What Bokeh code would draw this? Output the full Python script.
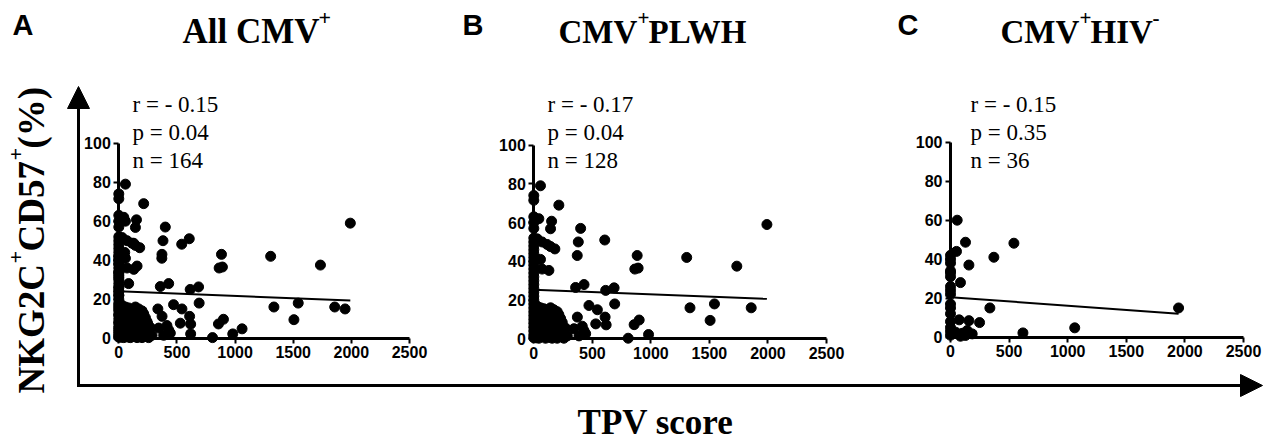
import math
from bokeh.plotting import figure
from bokeh.models import Range1d, LinearAxis, FixedTicker, Label, Arrow, NormalHead
from bokeh.embed import file_html
from bokeh.resources import INLINE

# ---------------- data ----------------
x_ticks = [0, 500, 1000, 1500, 2000, 2500]
y_ticks = [0, 20, 40, 60, 80, 100]

# CMV+ PLWH (panel B), TPV score vs NKG2C+CD57+ (%)
plwh_scatter = [
    (57, 79), (214, 69), (400, 57), (380, 50), (371, 43), (606, 51), (883, 43),
    (863, 36), (891, 36.5), (1306, 42), (1734, 37.5), (1991, 59), (1334, 16),
    (1543, 18), (1857, 16), (1506, 9.5), (980, 2.2), (806, 0.3), (857, 7.3),
    (900, 9.7), (691, 18), (686, 26.3), (614, 25), (429, 28), (357, 26.5),
    (471, 17.2), (543, 15), (372, 11.2), (609, 11.2), (618, 7.2), (529, 7.7),
    (343, 5.2), (414, 6.5), (429, 4.2), (443, 2.6), (386, 1.5),
    (152, 60.7), (143, 56.8), (43, 62), (29, 51.6), (71, 50), (114, 48.7),
    (143, 47.6), (180, 46.4), (57, 41), (129, 35.3), (71, 36),
]
plwh_axis_col = [
    (0, 74), (0, 71.5), (0, 63), (0, 60), (0, 57), (0, 52), (0, 50), (0, 48),
    (0, 46), (0, 44), (0, 42), (0, 40), (0, 38), (0, 36), (0, 34), (0, 32),
    (0, 30), (0, 28), (0, 26), (0, 24), (0, 22), (0, 20), (0, 18), (0, 16),
    (0, 14), (0, 12), (0, 10), (0, 8), (0, 6), (0, 4), (0, 2), (0, 0.5),
]
plwh_cluster = [
    (57, 16), (86, 15.5), (143, 16), (171, 15), (200, 14), (25, 17),
    (29, 13), (114, 13), (186, 13), (214, 12.5), (60, 12),
    (14, 11), (100, 11), (129, 11), (229, 10.5), (40, 10),
    (43, 9), (71, 9), (200, 9), (243, 8.5), (157, 8),
    (14, 6.5), (57, 6.5), (129, 6.5), (157, 6), (243, 6), (271, 5.5), (90, 7),
    (29, 4), (100, 4), (186, 4), (257, 3.5), (60, 3), (220, 5),
    (14, 2), (71, 2), (143, 2), (214, 2), (286, 1.5), (120, 2.5), (180, 1.5),
    (43, 0.3), (100, 0.3), (157, 0.3), (200, 0.3), (257, 0.3), (20, 0.5),
    (130, 0.8), (240, 1),
]
# CMV+ HIV- (panel C)
hivneg_points = [
    (57, 60), (128, 48.7), (541, 48.2), (51, 44), (370, 41), (157, 37), (85, 28),
    (336, 15), (1946, 15), (1060, 4.8), (618, 2.2), (248, 7.5), (74, 8.9),
    (157, 8.5), (142, 3.4), (185, 1.7), (100, 2), (43, 2.6), (85, 0.5), (128, 0.9),
    (0, 42), (0, 40), (0, 38), (0, 34), (0, 33), (0, 31), (0, 26), (0, 24),
    (0, 22), (0, 17), (0, 15), (0, 12), (0, 8), (0, 5), (0, 3), (0, 1),
]
plwh_points = plwh_scatter + plwh_axis_col + plwh_cluster
all_points = plwh_points + hivneg_points   # All CMV+ = PLWH + HIV-

stats_all = ["r = - 0.15", "p = 0.04", "n = 164"]
stats_plwh = ["r = - 0.17", "p = 0.04", "n = 128"]
stats_hivneg = ["r = - 0.15", "p = 0.35", "n = 36"]

# regression lines: (intercept, slope)
fit_all = (24.1, -0.00241)
fit_plwh = (25.3, -0.00235)
fit_hivneg = (20.5, -0.00436)

# ---------------- layout ----------------
W, H = 1271, 443
FX0, FX1 = 0, W
FY_B, FY_T = H, 0

SERIF = "Liberation Serif"
SANS = "Liberation Sans"
TICKFONT = "Liberation Sans Narrow, Liberation Sans"

p = figure(width=W, height=H, x_range=Range1d(FX0, FX1), y_range=Range1d(FY_B, FY_T),
           output_backend="svg", toolbar_location=None, title=None,
           x_axis_type=None, y_axis_type=None, min_border=0)
p.outline_line_color = None
p.background_fill_color = "white"
p.border_fill_color = "white"


def lin_range(v0, px0, v1, px1, lo, hi):
    s = (px1 - px0) / (v1 - v0)
    return Range1d(v0 + (lo - px0) / s, v0 + (hi - px0) / s)


panels = [
    dict(name="a", pts=all_points, stats=stats_all, fit=fit_all,
         x0=118.3, x2500=409.0, y0=337.7, y100=142.7, tx=132),
    dict(name="b", pts=plwh_points, stats=stats_plwh, fit=fit_plwh,
         x0=533.3, x2500=826.0, y0=338.3, y100=144.6, tx=547),
    dict(name="c", pts=hivneg_points, stats=stats_hivneg, fit=fit_hivneg,
         x0=950.0, x2500=1243.0, y0=336.7, y100=141.7, tx=970),
]

xr, yr = {}, {}
for pn in panels:
    xr["x" + pn["name"]] = lin_range(0, pn["x0"], 2500, pn["x2500"], FX0, FX1)
    yr["y" + pn["name"]] = lin_range(0, pn["y0"], 100, pn["y100"], FY_B, FY_T)
p.extra_x_ranges = xr
p.extra_y_ranges = yr


def style_axis(ax):
    ax.axis_line_width = 3
    ax.axis_line_color = "black"
    ax.major_tick_line_width = 2
    ax.major_tick_out = 5
    ax.major_tick_in = 0
    ax.minor_tick_line_color = None
    ax.major_label_text_font = TICKFONT
    ax.major_label_text_font_style = "bold"
    ax.major_label_text_font_size = "16px"
    ax.major_label_text_color = "black"
    ax.major_label_standoff = 3


for pn in panels:
    xn, yn = "x" + pn["name"], "y" + pn["name"]
    xs = [pt[0] for pt in pn["pts"]]
    ys = [pt[1] for pt in pn["pts"]]
    p.scatter(xs, ys, size=10, color="black", x_range_name=xn, y_range_name=yn)
    b0, b1 = pn["fit"]
    xe = max(xs)
    p.line([0, xe], [b0, b0 + b1 * xe], line_color="black", line_width=2,
           x_range_name=xn, y_range_name=yn)

    ax = LinearAxis(x_range_name=xn, y_range_name=yn, fixed_location=0,
                    ticker=FixedTicker(ticks=x_ticks), bounds=(0, 2500))
    style_axis(ax)
    p.add_layout(ax, "below")
    ay = LinearAxis(x_range_name=xn, y_range_name=yn, fixed_location=0,
                    ticker=FixedTicker(ticks=y_ticks), bounds=(0, 100))
    style_axis(ay)
    p.add_layout(ay, "left")

    for i, s in enumerate(pn["stats"]):
        p.add_layout(Label(x=pn["tx"], y=104 + 28 * i, text=s, text_font=SERIF,
                           text_font_size="23px", text_color="black",
                           text_baseline="middle"))

# panel letters
for letter, lx in [("A", 12), ("B", 462), ("C", 897)]:
    p.add_layout(Label(x=lx, y=24, text=letter, text_font=SANS, text_font_style="bold",
                       text_font_size="29px", text_color="black", text_baseline="middle"))


def title_piece(x, y, txt, size):
    p.add_layout(Label(x=x, y=y, text=txt, text_font=SERIF, text_font_style="bold",
                       text_font_size=size, text_color="black", text_baseline="middle"))


# titles (main text + superscripts)
title_piece(182, 31, "All CMV", "35px")
title_piece(318, 17, "+", "22px")
title_piece(558, 31, "CMV", "33px")
title_piece(637, 17, "+", "21px")
title_piece(648, 31, "PLWH", "33px")
title_piece(1000, 31, "CMV", "33px")
title_piece(1079, 17, "+", "21px")
title_piece(1090, 31, "HIV", "33px")
title_piece(1152, 17, "-", "21px")

# x label
p.add_layout(Label(x=655, y=422, text="TPV score", text_font=SERIF, text_font_style="bold",
                   text_font_size="35px", text_color="black", text_align="center",
                   text_baseline="middle"))

# y label (rotated pieces, reading bottom to top)
ang = math.pi / 2


def ylab_piece(x, y, txt, size):
    p.add_layout(Label(x=x, y=y, text=txt, angle=ang, text_font=SERIF, text_font_style="bold",
                       text_font_size=size, text_color="black", text_baseline="middle"))


ylab_piece(31, 393, "NKG2C", "37px")
ylab_piece(15, 263, "+", "22px")
ylab_piece(31, 251, "CD57", "37px")
ylab_piece(15, 160, "+", "22px")
ylab_piece(31, 148, " (%)", "37px")

# big arrows
p.add_layout(Arrow(end=NormalHead(size=22, fill_color="black", line_color="black"),
                   x_start=78, y_start=385, x_end=78, y_end=86,
                   line_width=3, line_color="black", line_cap="square"))
p.add_layout(Arrow(end=NormalHead(size=22, fill_color="black", line_color="black"),
                   x_start=78, y_start=385, x_end=1262, y_end=385,
                   line_width=3, line_color="black", line_cap="square"))

open("out.html", "w").write(file_html(p, INLINE))
